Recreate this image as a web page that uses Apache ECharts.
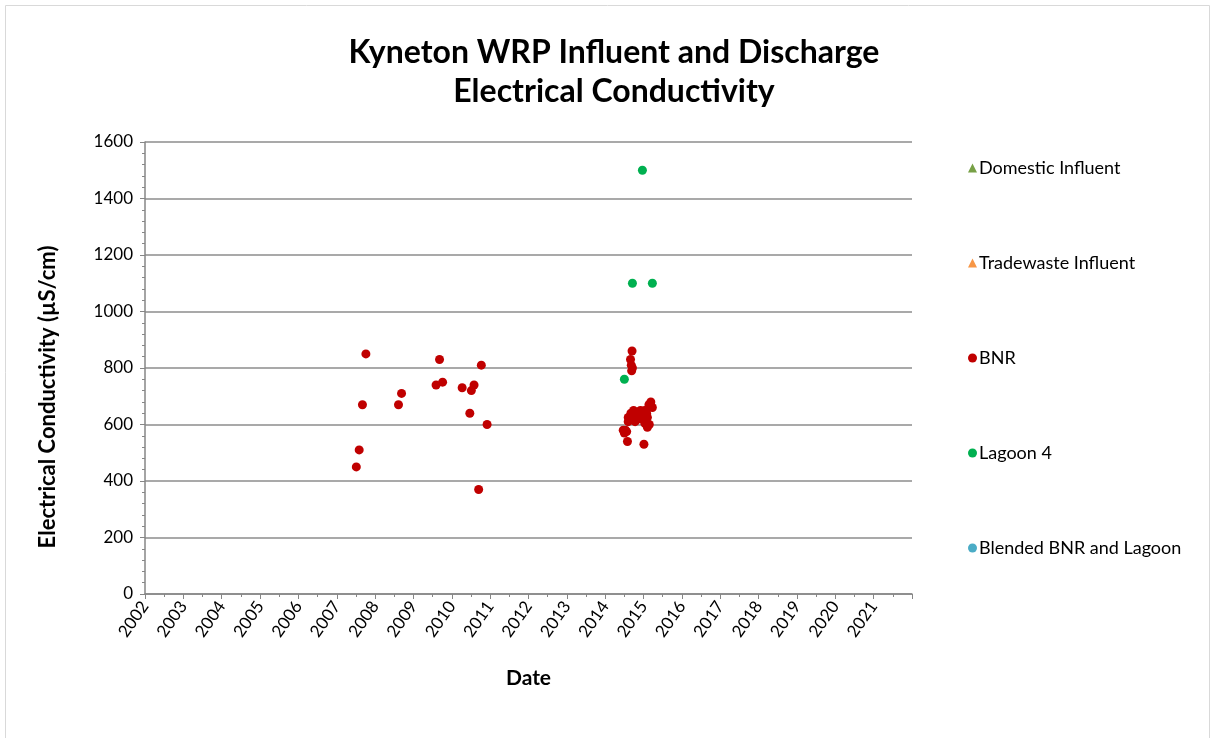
<!DOCTYPE html>
<html>
<head>
<meta charset="utf-8">
<script src="https://cdn.jsdelivr.net/npm/echarts@6/dist/echarts.min.js"></script>
<style>
  html, body { margin: 0; padding: 0; background: #fff; }
  #chart { width: 1211px; height: 738px; }
</style>
</head>
<body>
<div id="chart"></div>
<script>
// series data: [decimal year, EC in uS/cm]
const domesticInfluent = [];
const tradewasteInfluent = [];
const bnr = [
  [2007.51, 450], [2007.585, 510], [2007.67, 670], [2007.76, 850],
  [2008.61, 670], [2008.69, 710],
  [2009.59, 740], [2009.68, 830], [2009.76, 750],
  [2010.27, 730], [2010.47, 640], [2010.51, 720], [2010.58, 740],
  [2010.70, 370], [2010.77, 810], [2010.92, 600],
  [2014.66, 830], [2014.70, 860], [2014.68, 810], [2014.71, 800], [2014.69, 790],
  [2014.47, 580], [2014.50, 570], [2014.53, 580], [2014.56, 575], [2014.58, 540],
  [2014.60, 610], [2014.60, 625], [2014.67, 640], [2014.71, 620], [2014.74, 650],
  [2014.78, 610], [2014.82, 640], [2014.88, 620], [2014.92, 650], [2014.96, 640],
  [2014.99, 620], [2015.01, 530], [2015.03, 650], [2015.03, 605], [2015.06, 615],
  [2015.08, 640], [2015.10, 625], [2015.10, 590], [2015.15, 600], [2015.14, 670],
  [2015.19, 680], [2015.23, 660]
];
const lagoon4 = [[2014.50, 760], [2014.71, 1100], [2014.97, 1500], [2015.23, 1100]];
const blended = [];

const seriesNames = ['Domestic Influent', 'Tradewaste Influent', 'BNR', 'Lagoon 4', 'Blended BNR and Lagoon'];
const seriesColors = ['#77A046', '#F79646', '#C00000', '#00B050', '#4BACC6'];
const seriesSymbols = ['triangle', 'triangle', 'circle', 'circle', 'circle'];
const seriesData = [domesticInfluent, tradewasteInfluent, bnr, lagoon4, blended];

const chart = echarts.init(document.getElementById('chart'));
const font = 'Lato, "Open Sans", sans-serif';
const axisGrey = '#868686';

chart.setOption({
  animation: false,
  textStyle: { fontFamily: font },
  title: {
    text: 'Kyneton WRP Influent and Discharge\nElectrical Conductivity',
    left: 609,
    textAlign: 'center',
    top: 28,
    textStyle: { fontSize: 32, fontWeight: 'bold', color: '#000', lineHeight: 39, fontFamily: font }
  },
  legend: {
    orient: 'vertical',
    left: 963,
    top: 154,
    itemWidth: 9,
    itemHeight: 9,
    itemGap: 77,
    textStyle: { fontSize: 18, color: '#000', fontFamily: font, padding: [0, 0, 0, -3] },
    data: seriesNames.map((n, i) => ({ name: n, icon: seriesSymbols[i] }))
  },
  graphic: [
    {
      type: 'rect',
      shape: { x: 5.5, y: 5.5, width: 1204, height: 740 },
      style: { fill: 'none', stroke: '#D9D9D9', lineWidth: 1 },
      silent: true
    },
    {
      type: 'text',
      x: 48,
      y: 397,
      rotation: Math.PI / 2,
      style: {
        text: 'Electrical Conductivity (µS/cm)',
        font: 'bold 22px ' + font,
        fill: '#000',
        align: 'center',
        verticalAlign: 'middle'
      }
    }
  ],
  grid: { left: 145, right: 299, top: 142, bottom: 144, containLabel: false },
  xAxis: {
    type: 'value',
    min: 2002,
    max: 2022,
    interval: 1,
    name: 'Date',
    nameLocation: 'middle',
    nameGap: 74,
    nameTextStyle: { fontSize: 21, fontWeight: 'bold', color: '#000', fontFamily: font },
    axisLine: { show: true, onZero: false, lineStyle: { color: axisGrey, width: 1.5 } },
    axisTick: { show: true, length: 5, lineStyle: { color: axisGrey } },
    minorTick: { show: true, splitNumber: 2, length: 3, lineStyle: { color: axisGrey } },
    splitLine: { show: false },
    axisLabel: {
      rotate: 55,
      margin: 9,
      fontSize: 17,
      color: '#000',
      fontFamily: font,
      formatter: v => (v >= 2022 ? '' : String(v))
    }
  },
  yAxis: {
    type: 'value',
    min: 0,
    max: 1600,
    interval: 200,
    axisLine: { show: true, lineStyle: { color: axisGrey, width: 1.5 } },
    axisTick: { show: true, length: 5, lineStyle: { color: axisGrey } },
    minorTick: { show: true, splitNumber: 5, length: 3, lineStyle: { color: axisGrey } },
    splitLine: { show: true, lineStyle: { color: '#8C8C8C', width: 1.5 } },
    axisLabel: { fontSize: 17, color: '#000', margin: 12, fontFamily: font, formatter: v => String(v) }
  },
  series: seriesNames.map((n, i) => ({
    name: n,
    type: 'scatter',
    symbol: seriesSymbols[i],
    symbolSize: 9,
    itemStyle: { color: seriesColors[i], opacity: 1 },
    data: seriesData[i]
  }))
});
</script>
</body>
</html>
